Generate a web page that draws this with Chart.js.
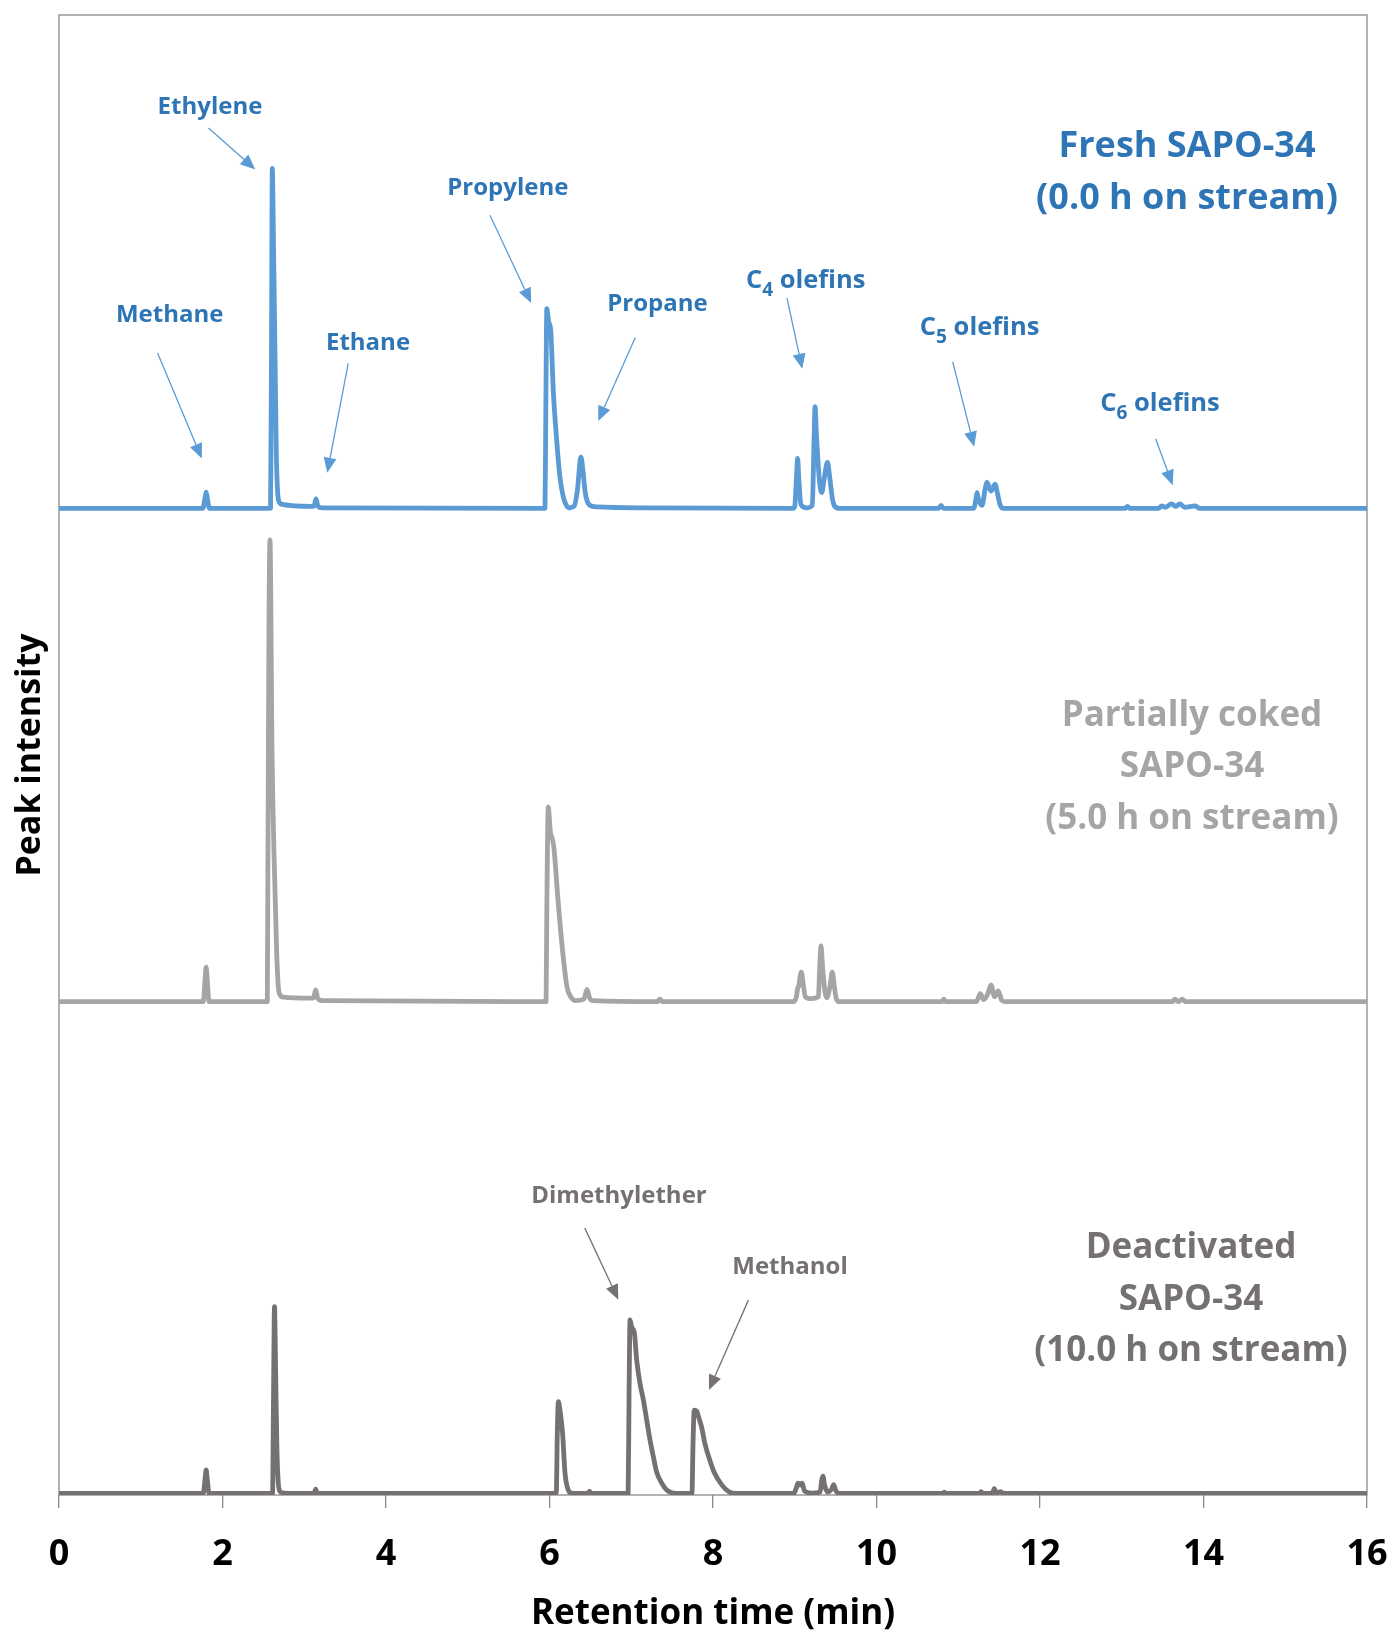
<!DOCTYPE html>
<html>
<head>
<meta charset="utf-8">
<script src="https://cdn.jsdelivr.net/npm/chart.js@4.4.1/dist/chart.umd.min.js"></script>
<style>
	body { margin: 0; background: #fff; }
	canvas { display: block; }
</style>
</head>
<body>
<canvas id="gc-chart" width="1394" height="1632"></canvas>
<script>
// retention time (min) / stacked peak intensity
var freshTrace = [
	[0, 2.0], [1.76, 2.0], [1.785, 2.02], [1.80, 2.033], [1.815, 2.02], [1.84, 2.0],
	[2.588, 2.0], [2.600, 2.35], [2.609, 2.689], [2.625, 2.52], [2.642, 2.317], [2.658, 2.114], [2.672, 2.04],
	[2.69, 2.014], [2.73, 2.008], [3.09, 2.004], [3.12, 2.005], [3.144, 2.019], [3.168, 2.004], [3.22, 2.001],
	[5.945, 2.0], [5.955, 2.2], [5.967, 2.405], [5.99, 2.378], [6.015, 2.361], [6.047, 2.236], [6.088, 2.138],
	[6.128, 2.063], [6.169, 2.023], [6.20, 2.008], [6.242, 2.001], [6.30, 2.004], [6.34, 2.035], [6.385, 2.104],
	[6.41, 2.075], [6.434, 2.036], [6.46, 2.015], [6.495, 2.006], [6.58, 2.003], [7.2, 2.001],
	[8.98, 2.0], [9.0, 2.004], [9.02, 2.06], [9.035, 2.101], [9.05, 2.06], [9.075, 2.008], [9.145, 2.001],
	[9.215, 2.006], [9.235, 2.13], [9.248, 2.206], [9.265, 2.15], [9.30, 2.06], [9.33, 2.032], [9.36, 2.06],
	[9.40, 2.093], [9.43, 2.06], [9.46, 2.02], [9.49, 2.004], [9.55, 2.0],
	[10.76, 2.0], [10.79, 2.006], [10.82, 2.0],
	[11.19, 2.0], [11.215, 2.018], [11.23, 2.032], [11.245, 2.02], [11.29, 2.006], [11.33, 2.04], [11.35, 2.053],
	[11.40, 2.035], [11.45, 2.049], [11.48, 2.03], [11.51, 2.008], [11.55, 2.0],
	[13.04, 2.0], [13.07, 2.004], [13.10, 2.0],
	[13.45, 2.0], [13.49, 2.005], [13.53, 2.002], [13.61, 2.009], [13.66, 2.004], [13.71, 2.009], [13.77, 2.002],
	[13.90, 2.005], [13.95, 2.0], [16, 2.0]
];
var cokedTrace = [
	[0, 1.0], [1.765, 1.0], [1.785, 1.04], [1.80, 1.07], [1.815, 1.04], [1.835, 1.0],
	[2.548, 1.0], [2.556, 1.3], [2.568, 1.75], [2.581, 1.936], [2.606, 1.503], [2.63, 1.30], [2.663, 1.098],
	[2.683, 1.03], [2.70, 1.015], [2.744, 1.009], [3.07, 1.007], [3.115, 1.008], [3.14, 1.024], [3.165, 1.007], [3.22, 1.002],
	[5.958, 1.0], [5.968, 1.2], [5.985, 1.395], [6.01, 1.345], [6.035, 1.33], [6.055, 1.31], [6.104, 1.206],
	[6.159, 1.105], [6.214, 1.03], [6.268, 1.008], [6.32, 1.002], [6.42, 1.005], [6.459, 1.025], [6.49, 1.008],
	[6.53, 1.002], [7.32, 1.0], [7.35, 1.005], [7.38, 1.0],
	[8.99, 1.0], [9.02, 1.01], [9.037, 1.028], [9.05, 1.032], [9.065, 1.05], [9.081, 1.06], [9.10, 1.04],
	[9.13, 1.01], [9.20, 1.006], [9.29, 1.01], [9.305, 1.07], [9.322, 1.113], [9.34, 1.07], [9.37, 1.02],
	[9.393, 1.008], [9.43, 1.03], [9.459, 1.06], [9.485, 1.03], [9.51, 1.005], [9.55, 1.0],
	[10.80, 1.0], [10.82, 1.005], [10.85, 1.0],
	[11.22, 1.0], [11.27, 1.016], [11.31, 1.004], [11.36, 1.015], [11.40, 1.034], [11.445, 1.01], [11.49, 1.022],
	[11.53, 1.003], [11.57, 1.0],
	[13.62, 1.0], [13.65, 1.005], [13.69, 1.0], [13.74, 1.005], [13.78, 1.0], [16, 1.0]
];
var deactTrace = [
	[0, 0.003], [1.765, 0.003], [1.785, 0.03], [1.80, 0.051], [1.815, 0.03], [1.835, 0.003],
	[2.612, 0.003], [2.624, 0.2], [2.636, 0.382], [2.65, 0.25], [2.665, 0.1], [2.68, 0.03], [2.70, 0.008], [2.75, 0.004],
	[3.12, 0.003], [3.14, 0.012], [3.16, 0.003],
	[6.083, 0.003], [6.095, 0.12], [6.108, 0.189], [6.13, 0.17], [6.16, 0.125], [6.19, 0.044], [6.23, 0.01], [6.27, 0.004],
	[6.47, 0.003], [6.49, 0.008], [6.51, 0.003],
	[6.962, 0.003], [6.973, 0.2], [6.985, 0.355], [7.005, 0.34], [7.037, 0.33], [7.066, 0.274], [7.107, 0.226],
	[7.148, 0.193], [7.189, 0.152], [7.23, 0.111], [7.27, 0.078], [7.31, 0.047], [7.373, 0.024], [7.434, 0.01],
	[7.515, 0.004], [7.70, 0.003],
	[7.743, 0.003], [7.755, 0.1], [7.77, 0.172], [7.80, 0.17], [7.83, 0.155], [7.86, 0.138], [7.90, 0.105],
	[7.96, 0.071], [8.02, 0.044], [8.11, 0.02], [8.19, 0.007], [8.29, 0.003],
	[8.99, 0.003], [9.02, 0.015], [9.04, 0.024], [9.065, 0.02], [9.09, 0.024], [9.12, 0.008], [9.20, 0.004],
	[9.31, 0.006], [9.33, 0.03], [9.345, 0.038], [9.365, 0.02], [9.40, 0.006], [9.45, 0.012], [9.477, 0.021],
	[9.50, 0.01], [9.53, 0.003],
	[10.81, 0.003], [10.83, 0.006], [10.85, 0.003],
	[11.26, 0.003], [11.28, 0.007], [11.30, 0.003], [11.42, 0.004], [11.44, 0.013], [11.47, 0.004],
	[11.52, 0.007], [11.55, 0.003], [16, 0.003]
];
var timeTicks = [0, 2, 4, 6, 8, 10, 12, 14, 16];

var BLUE = '#5B9BD5', BLUE_TEXT = '#2E75B6', GREY = '#A5A5A5', DARK = '#767171';
var FONT = 'Open Sans';

// labels: t / y of the text baseline centre, arrows: from -> tip (in axis units)
var labels = [
	{ text: 'Methane', t: 1.354, y: 2.378, color: BLUE_TEXT },
	{ text: 'Ethylene', t: 1.847, y: 2.799, color: BLUE_TEXT },
	{ text: 'Ethane', t: 3.780, y: 2.321, color: BLUE_TEXT },
	{ text: 'Propylene', t: 5.490, y: 2.635, color: BLUE_TEXT },
	{ text: 'Propane', t: 7.321, y: 2.400, color: BLUE_TEXT },
	{ text: 'C', sub: '4', rest: ' olefins', t: 9.133, y: 2.447, color: BLUE_TEXT },
	{ text: 'C', sub: '5', rest: ' olefins', t: 11.261, y: 2.352, color: BLUE_TEXT },
	{ text: 'C', sub: '6', rest: ' olefins', t: 13.468, y: 2.197, color: BLUE_TEXT },
	{ text: 'Dimethylether', t: 6.850, y: 0.592, color: DARK },
	{ text: 'Methanol', t: 8.942, y: 0.448, color: DARK }
];
var arrows = [
	{ from: [1.206, 2.315], to: [1.747, 2.101], color: BLUE },
	{ from: [1.829, 2.771], to: [2.401, 2.687], color: BLUE },
	{ from: [3.538, 2.294], to: [3.281, 2.072], color: BLUE },
	{ from: [5.272, 2.594], to: [5.776, 2.416], color: BLUE },
	{ from: [7.048, 2.346], to: [6.596, 2.177], color: BLUE },
	{ from: [8.905, 2.426], to: [9.092, 2.283], color: BLUE },
	{ from: [10.932, 2.297], to: [11.195, 2.125], color: BLUE },
	{ from: [13.414, 2.141], to: [13.623, 2.047], color: BLUE },
	{ from: [6.432, 0.541], to: [6.842, 0.396], color: DARK },
	{ from: [8.433, 0.395], to: [7.950, 0.213], color: DARK }
];
var sampleNames = [
	{ lines: ['Fresh SAPO-34', '(0.0 h on stream)'], t: 13.798, y: 2.712, size: 36, color: BLUE_TEXT },
	{ lines: ['Partially coked', 'SAPO-34', '(5.0 h on stream)'], t: 13.859, y: 1.559, size: 35, color: GREY },
	{ lines: ['Deactivated', 'SAPO-34', '(10.0 h on stream)'], t: 13.847, y: 0.480, size: 35, color: DARK }
];

function toXY(rows) {
	return rows.map(function(r) { return { x: r[0], y: r[1] }; });
}

var frame = {
	id: 'frame',
	beforeDatasetsDraw: function(chart) {
		var a = chart.chartArea, ctx = chart.ctx;
		ctx.save();
		ctx.strokeStyle = '#898989';
		ctx.lineWidth = 1.3;
		ctx.strokeRect(a.left, a.top, a.right - a.left, a.bottom - a.top);
		ctx.restore();
	}
};

var notes = {
	id: 'notes',
	afterDatasetsDraw: function(chart) {
		var ctx = chart.ctx, xs = chart.scales.x, ys = chart.scales.y;
		ctx.save();
		arrows.forEach(function(a) {
			var x0 = xs.getPixelForValue(a.from[0]), y0 = ys.getPixelForValue(a.from[1]);
			var x1 = xs.getPixelForValue(a.to[0]), y1 = ys.getPixelForValue(a.to[1]);
			var ang = Math.atan2(y1 - y0, x1 - x0), len = 15, half = 6.5;
			var bx = x1 - len * Math.cos(ang), by = y1 - len * Math.sin(ang);
			ctx.strokeStyle = a.color;
			ctx.fillStyle = a.color;
			ctx.lineWidth = 1.3;
			ctx.beginPath();
			ctx.moveTo(x0, y0);
			ctx.lineTo(bx, by);
			ctx.stroke();
			ctx.beginPath();
			ctx.moveTo(x1, y1);
			ctx.lineTo(bx + half * Math.sin(ang), by - half * Math.cos(ang));
			ctx.lineTo(bx - half * Math.sin(ang), by + half * Math.cos(ang));
			ctx.closePath();
			ctx.fill();
		});

		ctx.textBaseline = 'alphabetic';
		ctx.textAlign = 'left';
		labels.forEach(function(l) {
			var cx = xs.getPixelForValue(l.t), by = ys.getPixelForValue(l.y);
			var size = l.sub ? 25.5 : 24;
			var big = 'bold ' + size + 'px "' + FONT + '"', small = 'bold 19px "' + FONT + '"';
			ctx.font = big;
			var w1 = ctx.measureText(l.text).width, w3 = l.rest ? ctx.measureText(l.rest).width : 0;
			ctx.font = small;
			var w2 = l.sub ? ctx.measureText(l.sub).width : 0;
			var x = cx - (w1 + w2 + w3) / 2;
			ctx.fillStyle = l.color;
			ctx.font = big;
			ctx.fillText(l.text, x, by);
			if (l.sub) {
				ctx.font = small;
				ctx.fillText(l.sub, x + w1, by + 8);
				ctx.font = big;
				ctx.fillText(l.rest, x + w1 + w2, by);
			}
		});

		ctx.textAlign = 'center';
		sampleNames.forEach(function(s) {
			var cx = xs.getPixelForValue(s.t), by = ys.getPixelForValue(s.y);
			ctx.font = 'bold ' + s.size + 'px "' + FONT + '"';
			ctx.fillStyle = s.color;
			s.lines.forEach(function(line, i) {
				ctx.fillText(line, cx, by + i * 51.5);
			});
		});
		ctx.restore();
	}
};

window.addEventListener('load', function(event){
	var context = document.getElementById('gc-chart').getContext('2d');
	var line = function(rows, color) {
		return {
			data: toXY(rows),
			borderColor: color,
			borderWidth: 4.8,
			borderJoinStyle: 'round',
			borderCapStyle: 'round',
			cubicInterpolationMode: 'monotone',
			pointRadius: 0,
			fill: false
		};
	};
	var chart = new Chart(context, {
		type: 'scatter',
		data: {
			datasets: [line(deactTrace, DARK), line(cokedTrace, GREY), line(freshTrace, BLUE)]
		},
		options: {
			responsive: false,
			animation: false,
			devicePixelRatio: 1,
			showLine: true,
			layout: { padding: { top: 15, right: 27, left: 0, bottom: 0 } },
			plugins: { legend: { display: false }, tooltip: { enabled: false } },
			scales: {
				x: {
					type: 'linear',
					min: 0,
					max: 16,
					afterBuildTicks: function(scale) {
						scale.ticks = timeTicks.map(function(v) { return { value: v }; });
					},
					ticks: {
						color: '#000',
						font: { family: FONT, weight: 'bold', size: 36 },
						padding: 25,
						maxRotation: 0,
						autoSkip: false
					},
					grid: { drawOnChartArea: false, drawTicks: true, tickLength: 13, color: '#898989', lineWidth: 1.3 },
					border: { display: false },
					title: {
						display: true,
						text: 'Retention time (min)',
						color: '#000',
						font: { family: FONT, weight: 'bold', size: 35, lineHeight: 1.0 },
						padding: { top: 0, bottom: 0 }
					},
					afterFit: function(scale) {
						// the tick padding must not widen the side margins
						scale.height = 137;
						scale.paddingLeft = 0;
						scale.paddingRight = 0;
					}
				},
				y: {
					min: 0,
					max: 3,
					ticks: { display: false },
					grid: { display: false },
					border: { display: false },
					title: {
						display: true,
						text: 'Peak intensity',
						color: '#000',
						font: { family: FONT, weight: 'bold', size: 34 },
						padding: { top: 10, bottom: 0 }
					},
					afterFit: function(scale) { scale.width = 59; }
				}
			}
		},
		plugins: [frame, notes]
	});
});
</script>
</body>
</html>
